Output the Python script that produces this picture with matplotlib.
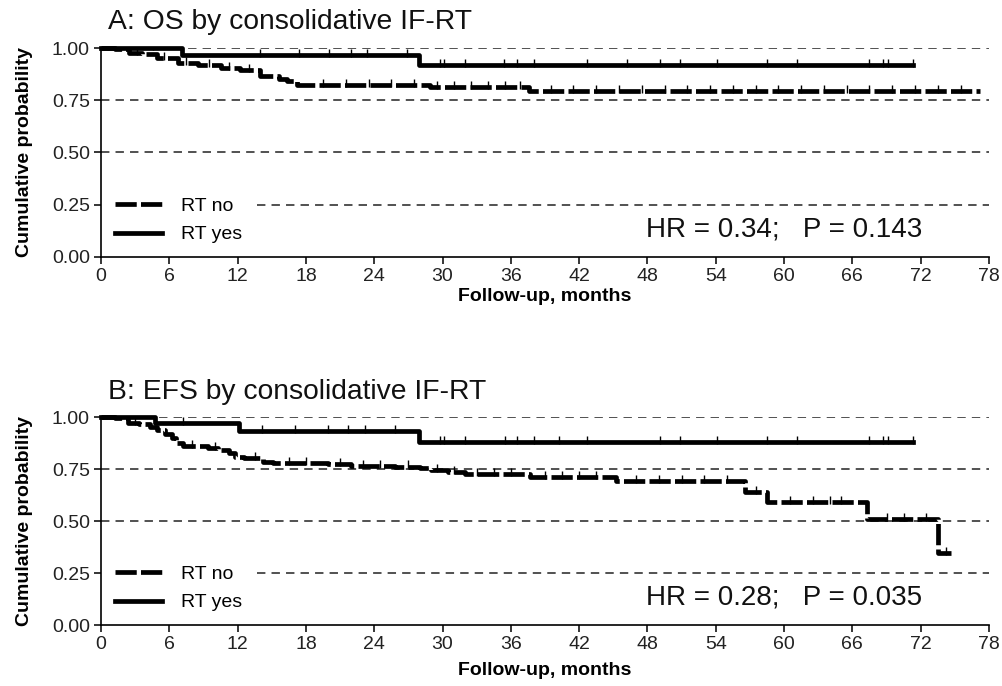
"""
Kaplan-Meier curves: OS and EFS by consolidative IF-RT
"""
import matplotlib
matplotlib.use('Agg')
import matplotlib.pyplot as plt

plt.rcParams['font.family'] = ['Liberation Sans', 'DejaVu Sans']

# Panel A: overall survival
os_no_t = [0, 1.2, 2.5, 3.6, 4.9, 6.8, 8.5, 10.5, 12.2, 14.0, 15.6, 16.3, 17.2, 28.9, 37.6, 77.2]
os_no_s = [1.0, 0.995, 0.975, 0.97, 0.95, 0.927, 0.919, 0.903, 0.895, 0.866, 0.85, 0.84,
           0.823, 0.813, 0.796, 0.796]
os_yes_t = [0, 7.1, 27.9, 71.3]
os_yes_s = [1.0, 0.966, 0.918, 0.918]
os_yes_cens = [0.6, 2.5, 4.6, 14.0, 17.4, 20.0, 22.0, 23.4, 26.9, 29.8, 30.1, 32.0, 35.4,
               36.5, 38.0, 42.7, 46.2, 49.1, 50.9, 54.1, 58.5, 61.1, 67.5, 68.7, 69.1, 71.3]
os_no_cens = [1.8, 3.2, 5.5, 7.5, 9.5, 11.2, 13.0, 19.5, 21.5, 23.5, 25.5, 27.5, 29.5, 31.0,
              32.5, 34.0, 35.5, 36.8, 39.5, 41.5, 43.5, 45.5, 47.5, 49.5, 51.5, 53.5, 55.5,
              57.5, 59.5, 61.5, 63.5, 65.5, 67.5, 69.5, 71.5, 73.5, 75.5]

# Panel B: event-free survival
efs_no_t = [0, 1.2, 2.4, 3.3, 4.3, 4.9, 5.6, 6.2, 6.6, 7.2, 9.4, 10.3, 11.2, 11.8, 12.6, 14.2,
            15.1, 19.9, 22.0, 25.8, 28.0, 29.0, 30.5, 32.0, 37.7, 45.2, 56.6, 58.5, 67.3,
            73.5, 74.7]
efs_no_s = [1.0, 0.995, 0.973, 0.966, 0.953, 0.937, 0.92, 0.898, 0.874, 0.862, 0.852, 0.841,
            0.826, 0.809, 0.802, 0.785, 0.777, 0.772, 0.766, 0.762, 0.755, 0.745, 0.735,
            0.728, 0.712, 0.69, 0.641, 0.593, 0.508, 0.346, 0.346]
efs_yes_t = [0, 4.7, 12.1, 27.9, 71.3]
efs_yes_s = [1.0, 0.971, 0.933, 0.88, 0.88]
efs_yes_cens = [0.2, 2.4, 7.2, 14.1, 17.0, 19.9, 21.7, 23.2, 25.8, 29.8, 30.1, 32.0, 35.5,
                36.5, 38.0, 40.2, 42.7, 49.1, 50.9, 54.1, 58.5, 61.1, 67.5, 68.7, 69.1, 71.3]
efs_no_cens = [1.8, 3.0, 8.0, 10.0, 13.5, 16.5, 18.0, 21.0, 23.0, 24.5, 27.0, 29.5, 31.0,
               33.0, 34.5, 36.0, 39.0, 40.5, 42.0, 43.5, 47.0, 49.0, 51.0, 53.0, 55.0, 57.5,
               60.5, 62.5, 64.0, 65.0, 69.0, 70.5, 72.5, 74.2]

panels = [
    ("A: OS by consolidative IF-RT", "HR = 0.34;   P = 0.143",
     os_no_t, os_no_s, os_no_cens, os_yes_t, os_yes_s, os_yes_cens),
    ("B: EFS by consolidative IF-RT", "HR = 0.28;   P = 0.035",
     efs_no_t, efs_no_s, efs_no_cens, efs_yes_t, efs_yes_s, efs_yes_cens),
]

x_ticks = list(range(0, 79, 6))
y_ticks = [0.0, 0.25, 0.5, 0.75, 1.0]


def step_value(times, surv, t):
    """Value of a post-step curve at time t"""
    val = surv[0]
    for ti, si in zip(times, surv):
        if ti <= t:
            val = si
    return val


fig = plt.figure(figsize=(10.02, 6.86), dpi=100)
ax_rects = [[0.1008, 0.6254, 0.8862, 0.3046], [0.1008, 0.0889, 0.8862, 0.3032]]
title_y = [0.957, 0.418]

for rect, ty, (title, stat, no_t, no_s, no_c, yes_t, yes_s, yes_c) in zip(ax_rects, title_y, panels):
    ax = fig.add_axes(rect)

    # Reference lines
    for yv in y_ticks[1:]:
        xmin = 0.176 if yv == 0.25 else 0.0
        ax.axhline(yv, xmin=xmin, xmax=1.0, color='#222222', lw=1.1,
                   linestyle=(0, (5.5, 4)), zorder=1)

    # Curves
    ax.step(no_t, no_s, where='post', color='black', lw=3.4, dashes=(4.5, 0.9),
            label='RT no', clip_on=False, zorder=3)
    ax.step(yes_t, yes_s, where='post', color='black', lw=3.4,
            label='RT yes', clip_on=False, zorder=3)

    # Censor marks
    ax.plot(no_c, [step_value(no_t, no_s, c) + 0.01 for c in no_c], linestyle='none',
            marker='|', color='black', ms=6, mew=1.0, zorder=4)
    ax.plot(yes_c, [step_value(yes_t, yes_s, c) + 0.01 for c in yes_c], linestyle='none',
            marker='|', color='black', ms=6, mew=1.0, zorder=4)

    ax.set_xlim(0, 78)
    ax.set_ylim(0, 1.0)
    ax.set_xticks(x_ticks)
    ax.set_yticks(y_ticks)
    ax.set_yticklabels([f'{v:.2f}' for v in y_ticks])
    ax.tick_params(axis='both', direction='out', length=5, width=1.1, labelsize=14,
                   labelcolor='#222222', pad=3)
    for side in ['top', 'right']:
        ax.spines[side].set_visible(False)
    for side in ['left', 'bottom']:
        ax.spines[side].set_linewidth(1.2)

    ax.set_ylabel('Cumulative probability', fontsize=14, fontweight='bold')
    ax.yaxis.set_label_coords(-0.077, 0.5)
    ax.set_xlabel('Follow-up, months', fontsize=14, fontweight='bold')
    ax.xaxis.set_label_coords(0.5, -0.15 if ty > 0.5 else -0.178)

    ax.text(47.9, 0.10, stat, fontsize=20, ha='left', va='baseline', color='#111111')

    ax.legend(loc='lower left', bbox_to_anchor=(0.016, 0.065), frameon=False, fontsize=14,
              handlelength=2.4, handletextpad=1.0, labelspacing=0.55, borderpad=0,
              borderaxespad=0)

    fig.text(0.108, ty, title, fontsize=20.3, ha='left', va='baseline', color='#111111')

fig.savefig('out.png', dpi=100)
